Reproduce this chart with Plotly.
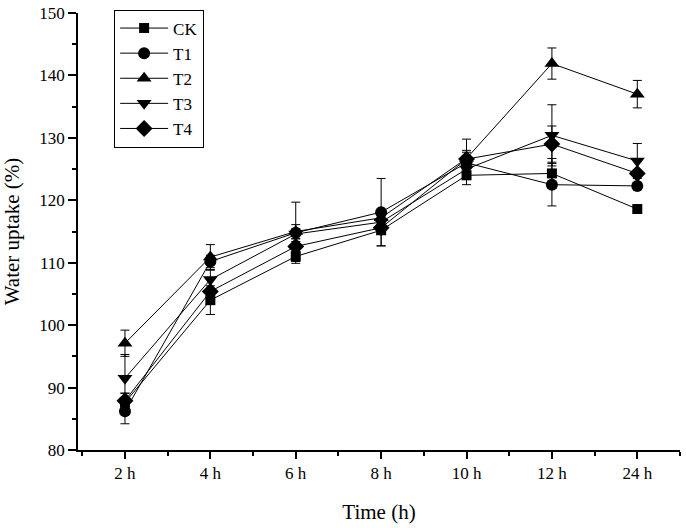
import plotly.graph_objects as go

times = ["2 h", "4 h", "6 h", "8 h", "10 h", "12 h", "24 h"]
ck = [87.6, 104.0, 111.0, 115.2, 124.0, 124.3, 118.6]
t1 = [86.2, 110.2, 114.8, 118.1, 126.0, 122.5, 122.3]
t2 = [97.1, 110.9, 115.0, 117.2, 126.7, 141.9, 137.0]
t3 = [91.5, 107.3, 114.6, 116.5, 125.0, 130.4, 126.3]
t4 = [87.9, 105.4, 112.6, 115.6, 126.6, 129.0, 124.3]
ck_err = [1.5, 2.3, 0.8, 2.5, 1.5, 2.4, 0.3]
t1_err = [2.0, 1.0, 4.9, 5.4, 2.0, 3.4, 0.5]
t2_err = [2.1, 2.0, 1.1, 1.0, 1.0, 2.5, 2.2]
t3_err = [3.8, 1.5, 0.8, 1.0, 1.2, 4.9, 2.8]
t4_err = [1.2, 2.0, 0.8, 1.0, 3.2, 2.9, 0.5]

series = [
    ("CK", ck, ck_err, "square", 10),
    ("T1", t1, t1_err, "circle", 12),
    ("T2", t2, t2_err, "triangle-up", 13),
    ("T3", t3, t3_err, "triangle-down", 13),
    ("T4", t4, t4_err, "diamond", 13),
]

xpos = list(range(len(times)))
fig = go.Figure()
for name, vals, errs, sym, sz in series:
    fig.add_trace(go.Scatter(
        x=xpos, y=vals, name=name, mode="lines+markers",
        line=dict(color="black", width=1),
        marker=dict(symbol=sym, size=sz, color="black"),
        error_y=dict(type="data", array=errs, visible=True,
                     color="black", thickness=1, width=4.5),
    ))

font = "Liberation Serif, Times New Roman, serif"
fig.update_layout(
    width=686, height=528,
    margin=dict(l=78, r=6, t=13, b=78),
    paper_bgcolor="white", plot_bgcolor="white",
    font=dict(family=font, color="black", size=17),
    legend=dict(x=0.06, y=1.008, xanchor="left", yanchor="top",
                bordercolor="black", borderwidth=1, bgcolor="white",
                font=dict(family=font, size=17, color="black"),
                tracegroupgap=0, itemwidth=48),
    showlegend=True,
)
fig.update_xaxes(
    range=[-0.55, 6.5], tickmode="array", tickvals=xpos, ticktext=times,
    showline=True, linecolor="black", linewidth=1.5, mirror=False,
    ticks="outside", ticklen=7, tickwidth=1.5, tickcolor="black",
    minor=dict(tickmode="array", tickvals=[x + 0.5 for x in xpos[:-1]] + [-0.5, 6.5],
               ticks="outside", ticklen=4, tickwidth=1.5, tickcolor="black"),
    showgrid=False, zeroline=False, automargin=False,
    title=dict(text="Time (h)", font=dict(family=font, size=21), standoff=22),
    tickfont=dict(family=font, size=17),
)
fig.update_yaxes(
    range=[80, 150], dtick=10, tick0=80,
    showline=True, linecolor="black", linewidth=1.5, mirror=False,
    ticks="outside", ticklen=8, tickwidth=1.5, tickcolor="black",
    minor=dict(dtick=5, tick0=80, ticks="outside", ticklen=4, tickwidth=1.5, tickcolor="black"),
    showgrid=False, zeroline=False, automargin=False,
    title=dict(text="Water uptake (%)", font=dict(family=font, size=21), standoff=14),
    tickfont=dict(family=font, size=17),
)
fig.write_html("out.html", config={"displayModeBar": False},
               post_script="document.body.style.margin='0px';")
